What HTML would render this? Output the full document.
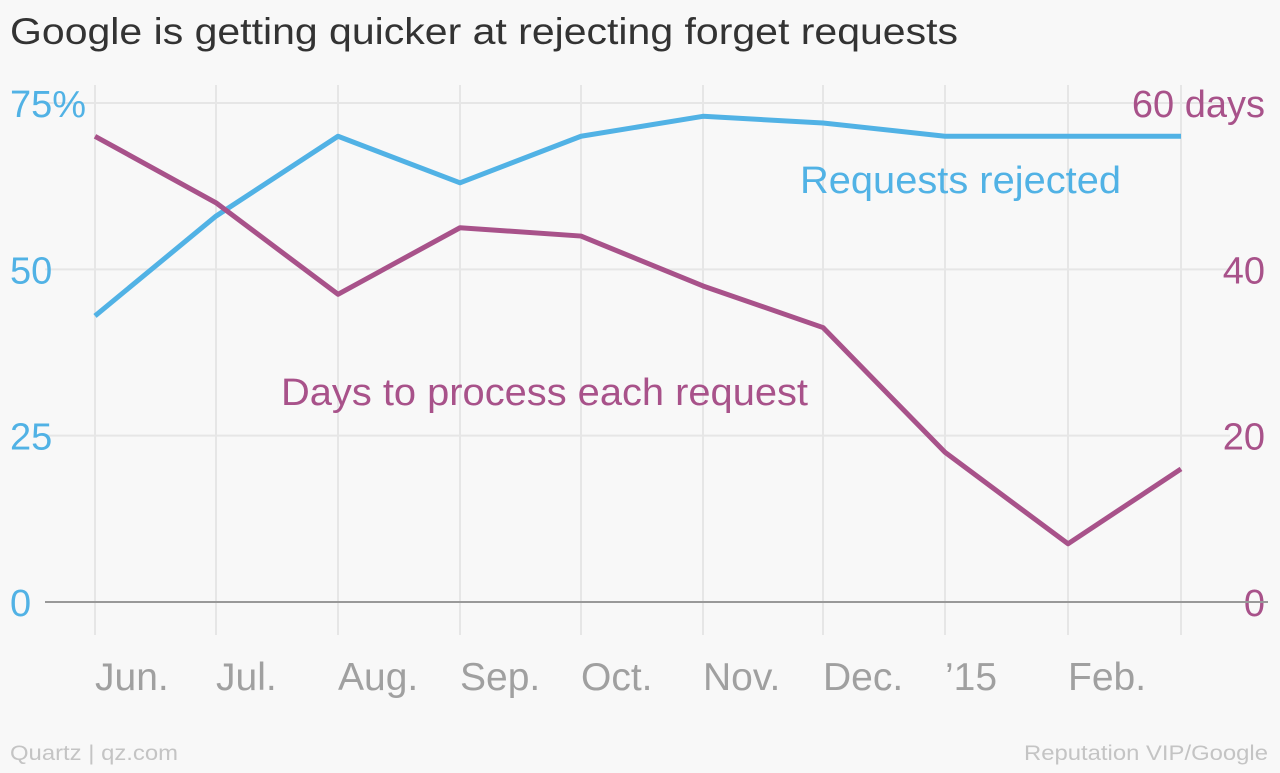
<!DOCTYPE html>
<html><head><meta charset="utf-8"><style>
body{margin:0;background:#f8f8f8;font-family:"Liberation Sans",sans-serif}
svg text{font-family:"Liberation Sans",sans-serif}
</style></head><body>
<svg id="chart" width="1280" height="768" xmlns="http://www.w3.org/2000/svg">
<rect width="1280" height="768" fill="#f8f8f8"/>
<text x="10" y="44" font-size="37" fill="#333" textLength="948" lengthAdjust="spacingAndGlyphs">Google is getting quicker at rejecting forget requests</text>
<g id="grid"></g><g id="series"></g>
<text x="800" y="193" font-size="38" fill="#51b2e5" textLength="321" lengthAdjust="spacingAndGlyphs">Requests rejected</text>
<text x="281" y="405" font-size="38" fill="#a8528a" textLength="527" lengthAdjust="spacingAndGlyphs">Days to process each request</text>
<text x="10" y="760" font-size="21" fill="#c4c4c4" textLength="168" lengthAdjust="spacingAndGlyphs">Quartz | qz.com</text>
<text x="1024" y="760" font-size="21" fill="#c4c4c4" textLength="244" lengthAdjust="spacingAndGlyphs">Reputation VIP/Google</text>
</svg>
<script>
const months=["Jun.","Jul.","Aug.","Sep.","Oct.","Nov.","Dec.","’15","Feb.",""];
const rejected=[43,58,70,63,70,73,72,70,70,70];
const days=[56,48,37,45,44,38,33,18,7,16];
const leftTicks=["0","25","50","75%"];
const leftVals=[0,25,50,75];
const rightTicks=["0","20","40","60 days"];
const rightVals=[0,20,40,60];
const xs=[95,216,338,460,581,703,823,945,1068,1181];
const y0=602,yTop=103;
const yL=v=>y0-(v/75)*(y0-yTop);
const yR=v=>y0-(v/60)*(y0-yTop);
const x=i=>xs[i];
const NS="http://www.w3.org/2000/svg";
const grid=document.getElementById('grid'),ser=document.getElementById('series');
function mk(tag,attrs,parent){const e=document.createElementNS(NS,tag);for(const k in attrs)e.setAttribute(k,attrs[k]);parent.appendChild(e);return e;}
months.forEach((m,i)=>{
 const l=mk('line',{x1:x(i),x2:x(i),y1:85,y2:635,stroke:'#e6e6e6','stroke-width':2},grid);
 
 
 if(m){const t=mk('text',{x:x(i),y:690,'font-size':39,fill:'#a0a0a0'},grid);t.textContent=m;
 
 }
});
leftVals.forEach((v,i)=>{
 if(v>0){const l=mk('line',{x1:45,x2:1230,y1:yL(v),y2:yL(v),stroke:'#e6e6e6','stroke-width':2},grid);
 
 }
 const t=mk('text',{x:10,y:yL(v)+14,'font-size':38,fill:'#51b2e5'},grid);t.textContent=leftTicks[i];
 
 
});
rightVals.forEach((v,i)=>{
 const t=mk('text',{x:1265,y:yR(v)+14,'font-size':38,fill:'#a8528a','text-anchor':'end'},grid);t.textContent=rightTicks[i];
 
 
});
const base=mk('line',{x1:45,x2:1268,y1:y0,y2:y0,stroke:'#999','stroke-width':2},grid);


const p1=mk('polyline',{points:rejected.map((v,i)=>x(i)+','+yL(v)).join(' '),fill:'none',stroke:'#51b2e5','stroke-width':5,'stroke-linejoin':'round'},ser);


const p2=mk('polyline',{points:days.map((v,i)=>x(i)+','+yR(v)).join(' '),fill:'none',stroke:'#a8528a','stroke-width':5,'stroke-linejoin':'round'},ser);


</script>
</body></html>
